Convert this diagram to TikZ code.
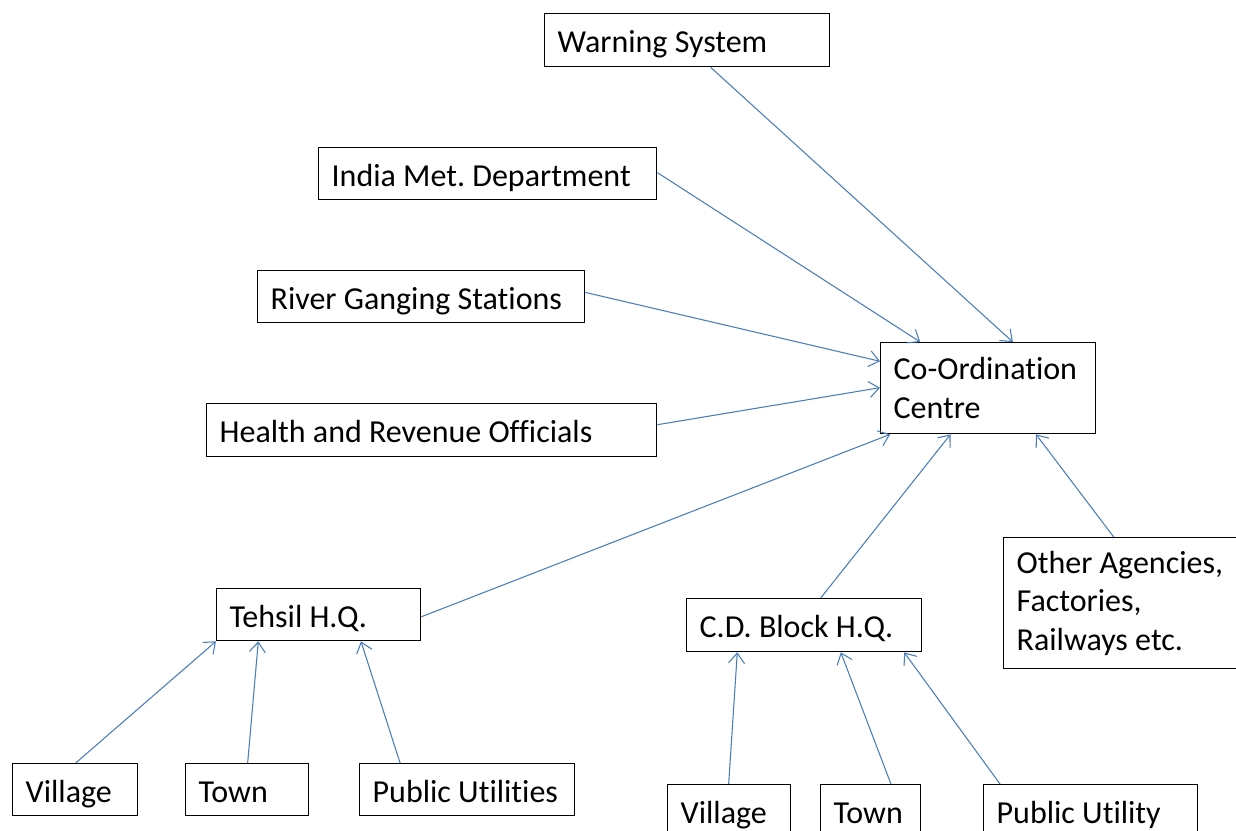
\documentclass[tikz,border=0pt]{standalone}
\usepackage{fontspec}
\setmainfont{Carlito}[Ligatures={NoCommon}]
\usetikzlibrary{arrows.meta,calc}
\definecolor{conn}{HTML}{4A7EBB}
\tikzset{
  box/.style={draw=black, line width=1.0pt, anchor=north west, align=flush left,
    inner xsep=9.75pt, inner ysep=0pt, font=\fontsize{24}{29}\selectfont},
  one/.style={text height=24pt, text depth=5.3pt},
  link/.style={draw=conn, line width=0.8pt, -{Straight Barb[length=7.5pt,width=12pt,line width=0.8pt]}}
}
\newcommand{\pxw}[1]{\dimexpr #1\dimexpr 0.75pt\relax - 19.5pt\relax}
\frenchspacing
\begin{document}
\begin{tikzpicture}[x=0.75pt,y=-0.75pt]
\useasboundingbox (0,0) rectangle (1236,831);
% boxes
\node[box, one, text width=\pxw{285}, minimum height=39.75pt] (ws) at (544,13) {Warning System};
\node[box, one, text width=\pxw{338}, minimum height=39pt] (imd) at (318,147) {India Met. Department};
\node[box, one, text width=\pxw{327}, minimum height=39pt] (rgs) at (257,270) {River Ganging Stations};
\node[box, one, text width=\pxw{450}, minimum height=39.75pt] (hro) at (206,403) {Health and Revenue Officials};
\node[box, text width=\pxw{215}, minimum height=68.25pt] (co) at (880,342) {Co-Ordination\\Centre};
\node[box, text width=\pxw{242}, minimum height=98.25pt] (oa) at (1003,537) {Other Agencies,\\Factories,\\Railways etc.};
\node[box, one, text width=\pxw{204}, minimum height=39pt] (th) at (216,588) {Tehsil H.Q.};
\node[box, one, text width=\pxw{235}, minimum height=39.75pt] (cd) at (686,598) {C.D. Block H.Q.};
\node[box, one, text width=\pxw{125}, minimum height=39pt] (v1) at (12,763) {Village};
\node[box, one, text width=\pxw{123}, minimum height=39pt] (t1) at (185,763) {Town};
\node[box, one, text width=\pxw{215}, minimum height=39pt] (p1) at (359,763) {Public Utilities};
\node[box, one, text width=\pxw{123}, minimum height=39pt] (v2) at (667,784) {Village};
\node[box, one, text width=\pxw{100}, minimum height=39pt] (t2) at (820,784) {Town};
\node[box, one, text width=\pxw{214}, minimum height=39pt] (p2) at (983,784) {Public Utility};
% connectors
\draw[link] ($(ws.south west)!0.582!(ws.south east)$) -- ($(co.north west)!0.614!(co.north east)$);
\draw[link] ($(imd.north east)!0.48!(imd.south east)$) -- ($(co.north west)!0.186!(co.north east)$);
\draw[link] ($(rgs.north east)!0.42!(rgs.south east)$) -- ($(co.north west)!0.209!(co.south west)$);
\draw[link] ($(hro.north east)!0.40!(hro.south east)$) -- ($(co.north west)!0.495!(co.south west)$);
\draw[link] ($(th.north east)!0.54!(th.south east)$) -- ($(co.south west)!0.047!(co.south east)$);
\draw[link] ($(cd.north west)!0.57!(cd.north east)$) -- ($(co.south west)!0.326!(co.south east)$);
\draw[link] ($(oa.north west)!0.455!(oa.north east)$) -- ($(co.south west)!0.721!(co.south east)$);
\draw[link] ($(v1.north west)!0.504!(v1.north east)$) -- (th.south west);
\draw[link] ($(t1.north west)!0.504!(t1.north east)$) -- ($(th.south west)!0.206!(th.south east)$);
\draw[link] ($(p1.north west)!0.19!(p1.north east)$) -- ($(th.south west)!0.706!(th.south east)$);
\draw[link] ($(v2.north west)!0.496!(v2.north east)$) -- ($(cd.south west)!0.217!(cd.south east)$);
\draw[link] ($(t2.north west)!0.7!(t2.north east)$) -- ($(cd.south west)!0.655!(cd.south east)$);
\draw[link] ($(p2.north west)!0.079!(p2.north east)$) -- ($(cd.south west)!0.923!(cd.south east)$);
\end{tikzpicture}
\end{document}
